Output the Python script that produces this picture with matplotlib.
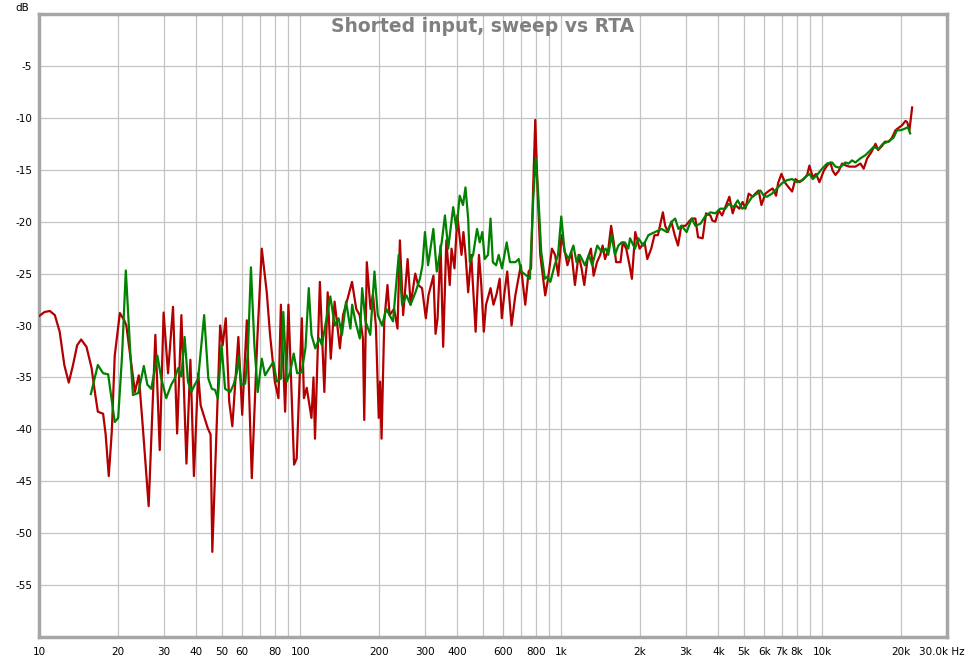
import matplotlib.pyplot as plt
from matplotlib.ticker import FixedLocator, NullFormatter, NullLocator

# Sweep (red) - frequency in Hz, level in dB
sweep_freq = [10, 10.5, 11.0, 11.5, 12.0, 12.5, 13.0, 13.5, 14.0, 14.5, 15.2, 15.9, 16.3, 16.8,
              17.6, 18.0, 18.5, 19.0, 19.5, 20.4, 21.2, 21.6, 23.3, 24.1, 25.0, 26.3, 27.9, 29.0,
              30.0, 31.2, 32.6, 33.8, 35.1, 36.7, 38.0, 39.2, 40.7, 41.6, 44.3, 45.4, 46.1, 49.4,
              50.5, 51.9, 53.5, 55.0, 58.0, 60, 62.5, 65.3, 68.5, 71.3, 74.5, 76.7, 80, 82.6,
              84.4, 87.6, 90.2, 94.8, 97, 101.5, 103.4, 106, 110.5, 112.5, 114, 119, 123.8, 127.5,
              131, 135.5, 142, 146, 152, 158, 164, 169, 174, 176, 180, 186, 190, 195, 200, 202.5,
              205, 210, 216, 220, 229, 236, 241, 248, 258, 265, 276, 283, 293, 303, 310, 324, 330,
              336, 345, 353, 363, 374, 380, 390, 400, 415, 422, 430, 440, 452, 470, 484, 494, 505,
              515, 536, 550, 565, 581, 592, 605, 621, 645, 667, 700, 728, 750, 766, 781, 795, 812,
              831, 868, 890, 921, 947, 974, 1003, 1026, 1056, 1093, 1128, 1165, 1196, 1225, 1261,
              1299, 1330, 1370, 1410, 1440, 1471, 1515, 1552, 1588, 1622, 1686, 1720, 1773, 1826,
              1864, 1920, 1995, 2085, 2135, 2210, 2275, 2345, 2450, 2500, 2560, 2640, 2720, 2800,
              2880, 2990, 3080, 3160, 3262, 3341, 3478, 3584, 3723, 3790, 3890, 4005, 4128, 4250,
              4403, 4533, 4642, 4808, 4950, 5070, 5220, 5410, 5537, 5702, 5841, 6047, 6266, 6450,
              6646, 6765, 6966, 7216, 7429, 7655, 7882, 8165, 8480, 8740, 8918, 9180, 9458, 9740,
              10120, 10420, 10730, 10950, 11220, 11550, 11900, 12330, 12690, 13380, 13980, 14390,
              14840, 15400, 15970, 16350, 16930, 17330, 17950, 18490, 19040, 19730, 20210, 20800,
              21110, 21540, 22060]
sweep_db = [-29.1, -28.7, -28.6, -29.0, -30.6, -33.8, -35.5, -33.8, -31.9, -31.35, -32.05, -34.1,
            -36.1, -38.3, -38.5, -40.5, -44.5, -40.2, -32.9, -28.8, -29.5, -30.0, -36.4, -34.8,
            -39.9, -47.4, -30.9, -42.0, -28.75, -34.6, -28.2, -40.4, -29.0, -43.3, -33.3, -44.5,
            -34.6, -37.7, -39.9, -40.5, -51.8, -30.0, -31.9, -29.3, -37.3, -39.7, -31.1, -38.6,
            -29.5, -44.7, -31.5, -22.6, -26.8, -30.9, -35.4, -37.0, -28.0, -38.3, -28.0, -43.4,
            -42.8, -29.3, -37.0, -36.0, -38.9, -35.0, -40.9, -25.8, -36.4, -26.8, -33.2, -27.7,
            -32.2, -29.0, -27.4, -25.8, -28.4, -29.0, -31.25, -39.1, -23.9, -28.4, -27.0, -30.0,
            -38.9, -35.4, -40.9, -29.6, -26.1, -29.0, -28.4, -30.3, -21.8, -29.0, -23.6, -28.0,
            -25.0, -26.1, -26.4, -29.3, -27.1, -25.2, -30.8, -29.3, -22.3, -32.05, -21.8, -26.1,
            -22.6, -24.5, -19.4, -23.2, -21.0, -23.2, -26.8, -23.2, -30.6, -23.2, -26.1, -30.6,
            -28.0, -26.4, -28.0, -27.0, -25.5, -29.3, -27.0, -24.8, -30.0, -27.1, -24.2, -28.0,
            -24.8, -24.5, -16.5, -10.2, -17.1, -23.2, -27.1, -25.5, -22.6, -23.2, -25.2, -21.3,
            -22.6, -24.2, -22.9, -26.1, -23.2, -24.5, -26.1, -23.6, -22.6, -25.2, -23.9, -23.2,
            -22.3, -23.6, -22.6, -20.4, -22.0, -23.9, -23.9, -22.0, -22.6, -24.2, -25.5, -21.0,
            -22.6, -22.0, -23.6, -22.6, -21.3, -21.3, -19.1, -20.4, -21.0, -20.0, -21.3, -22.3,
            -20.4, -20.4, -20.0, -19.7, -19.7, -21.5, -21.6, -19.2, -19.4, -19.9, -20.0, -18.9,
            -19.4, -18.6, -17.6, -19.2, -18.4, -18.75, -18.1, -18.75, -17.3, -17.6, -17.3, -17.0,
            -18.4, -17.3, -17.0, -16.8, -17.5, -16.3, -15.4, -16.3, -16.7, -17.1, -15.9, -16.2,
            -15.9, -15.5, -14.6, -15.7, -15.4, -16.2, -15.1, -14.6, -14.3, -15.1, -15.5, -15.1,
            -14.4, -14.6, -14.7, -14.7, -14.4, -14.9, -13.9, -13.3, -12.5, -13.1, -12.7, -12.3,
            -12.3, -11.9, -11.2, -10.9, -10.7, -10.3, -10.4, -11.2, -9.0]

# RTA (green)
rta_freq = [15.8, 16.8, 17.6, 18.4, 19.5, 20.1, 20.8, 21.5, 22.4, 22.9, 24.0, 25.2, 26.0, 26.9,
            28.4, 29.4, 30.7, 32.1, 33.1, 34.1, 35.1, 36.1, 37.2, 38.3, 39.5, 40.7, 42.9, 44.5,
            45.9, 47.2, 48.4, 50.0, 51.6, 54.0, 55.6, 57.3, 58.1, 59.5, 61.6, 63.1, 64.8, 66.8,
            68.8, 71.3, 73.4, 76.7, 79.0, 81.4, 84.5, 86.2, 88.9, 91.6, 94.5, 97.4, 101.3, 104.8,
            107.9, 110.5, 114.3, 118.4, 121.2, 125.6, 130.5, 135.6, 140.3, 144.6, 149.9, 155.8,
            158.2, 162.8, 169.2, 172.8, 178, 185.6, 192.6, 198.3, 206, 213.8, 220, 226.8, 238.5,
            245.7, 255.3, 264.6, 276.5, 287.5, 294, 300.6, 309, 323.7, 333.6, 348.4, 358.5, 369,
            385.5, 397, 408.4, 420.5, 429.7, 440, 446.5, 459.6, 475.8, 487.4, 498.6, 509, 524,
            536, 547, 563, 576, 593, 618, 636, 667, 687, 703, 736, 758, 781, 798, 815, 838, 865,
            885, 908, 943, 972, 1000, 1030, 1066, 1113, 1144, 1178, 1232, 1275, 1314, 1373, 1426,
            1479, 1513, 1559, 1605, 1654, 1703, 1754, 1806, 1834, 1915, 1973, 2062, 2155, 2286,
            2423, 2534, 2650, 2730, 2810, 2890, 3020, 3160, 3262, 3410, 3555, 3723, 3890, 4060,
            4250, 4370, 4565, 4740, 4930, 5070, 5380, 5620, 5790, 5960, 6135, 6410, 6700, 7000,
            7320, 7655, 8000, 8360, 8610, 8920, 9180, 9540, 9970, 10420, 10890, 11220, 11620,
            12250, 12600, 12980, 13380, 13980, 14600, 15020, 15700, 16410, 17030, 17850, 18740,
            19290, 19860, 20450, 21250, 21680]
rta_db = [-36.6, -33.8, -34.6, -34.7, -39.3, -38.9, -32.9, -24.7, -32.9, -36.7, -36.5, -33.9,
          -35.7, -36.1, -32.9, -35.1, -37.0, -35.7, -35.1, -34.1, -34.9, -31.1, -35.4, -36.4,
          -35.7, -35.1, -29.0, -35.1, -36.1, -36.2, -37.0, -31.9, -36.1, -36.4, -35.7, -34.5,
          -32.9, -35.7, -35.6, -32.5, -24.4, -31.9, -36.4, -33.2, -34.8, -34.0, -33.5, -35.4,
          -35.1, -28.7, -35.4, -34.5, -32.7, -34.6, -34.5, -32.2, -26.4, -30.9, -32.2, -31.25,
          -31.9, -29.6, -27.2, -30.0, -29.3, -30.9, -27.7, -30.3, -28.0, -29.6, -31.25, -26.4,
          -29.6, -30.9, -24.8, -29.0, -30.0, -28.4, -29.0, -29.6, -23.2, -28.0, -27.1, -28.0,
          -26.8, -25.5, -24.2, -21.0, -24.2, -20.7, -24.8, -22.0, -19.4, -22.6, -18.6, -20.7,
          -17.5, -18.4, -16.7, -19.7, -23.9, -23.2, -20.7, -22.0, -21.0, -23.6, -23.2, -19.7,
          -23.9, -24.2, -23.2, -24.5, -22.0, -23.9, -23.9, -23.6, -24.8, -25.2, -25.5, -17.8,
          -13.9, -17.1, -22.9, -25.5, -25.3, -25.8, -24.2, -23.2, -19.5, -22.9, -23.6, -22.3,
          -23.9, -23.2, -24.2, -23.2, -24.2, -22.3, -22.9, -22.6, -23.2, -21.3, -23.2, -22.3,
          -22.0, -22.0, -22.6, -21.6, -22.6, -21.6, -22.3, -21.3, -21.0, -20.7, -21.0, -20.0,
          -19.7, -20.7, -20.4, -21.0, -19.7, -20.4, -20.2, -19.5, -19.1, -19.2, -18.75, -18.75,
          -18.3, -18.6, -17.95, -18.75, -18.6, -17.6, -17.3, -17.0, -17.5, -17.6, -17.3, -16.8,
          -16.3, -16.0, -15.9, -16.2, -16.0, -15.7, -15.4, -15.9, -15.5, -14.9, -14.4, -14.3,
          -14.7, -14.8, -14.3, -14.4, -14.1, -14.3, -13.9, -13.6, -13.3, -12.8, -13.0, -12.5,
          -12.3, -11.9, -11.2, -11.2, -11.1, -10.9, -11.5]

# grid and labels
grid_freqs = [20, 30, 40, 50, 60, 70, 80, 90, 100, 200, 300, 400, 500, 600, 700, 800, 900,
              1000, 2000, 3000, 4000, 5000, 6000, 7000, 8000, 9000, 10000, 20000]
label_freqs = [10, 20, 30, 40, 50, 60, 80, 100, 200, 300, 400, 600, 800, 1000, 2000, 3000,
               4000, 5000, 6000, 7000, 8000, 10000, 20000]
label_text = ['10', '20', '30', '40', '50', '60', '80', '100', '200', '300', '400', '600', '800',
              '1k', '2k', '3k', '4k', '5k', '6k', '7k', '8k', '10k', '20k']
db_ticks = [-55, -50, -45, -40, -35, -30, -25, -20, -15, -10, -5]

fig = plt.figure(figsize=(9.66, 6.58), dpi=100)
ax = fig.add_axes([39 / 966, 21 / 658, 908 / 966, 623 / 658])

ax.semilogx(sweep_freq, sweep_db, color='#b20000', lw=1.6, zorder=3)
ax.semilogx(rta_freq, rta_db, color='#008200', lw=1.6, zorder=4)

ax.set_xlim(10, 30000)
ax.set_ylim(-60, 0)

ax.xaxis.set_major_locator(FixedLocator(grid_freqs))
ax.xaxis.set_major_formatter(NullFormatter())
ax.xaxis.set_minor_locator(NullLocator())
ax.yaxis.set_major_locator(FixedLocator(db_ticks))
ax.grid(True, color='#c4c4c4', lw=0.9)
ax.tick_params(length=0, labelsize=7.5, colors='#000000', pad=5)
ax.set_yticklabels([str(v) for v in db_ticks])

for f, t in zip(label_freqs, label_text):
    ax.annotate(t, xy=(f, 0), xycoords=('data', 'axes fraction'), xytext=(0, -11),
                textcoords='offset points', ha='center', va='center', fontsize=7.5)
ax.annotate('30.0k Hz', xy=(1, 0), xycoords='axes fraction', xytext=(-4, -11),
            textcoords='offset points', ha='center', va='center', fontsize=7.5)

for s in ax.spines.values():
    s.set_color('#a6a6a6')
    s.set_linewidth(2.5)

fig.text(22 / 966, 1 - 8 / 658, 'dB', ha='center', va='center', fontsize=7.5)
fig.text(483 / 966, 1 - 27 / 658, 'Shorted input, sweep vs RTA', ha='center', va='center',
         fontsize=13.5, fontweight='bold', color='#808080')

plt.savefig('out.png', dpi=100)
